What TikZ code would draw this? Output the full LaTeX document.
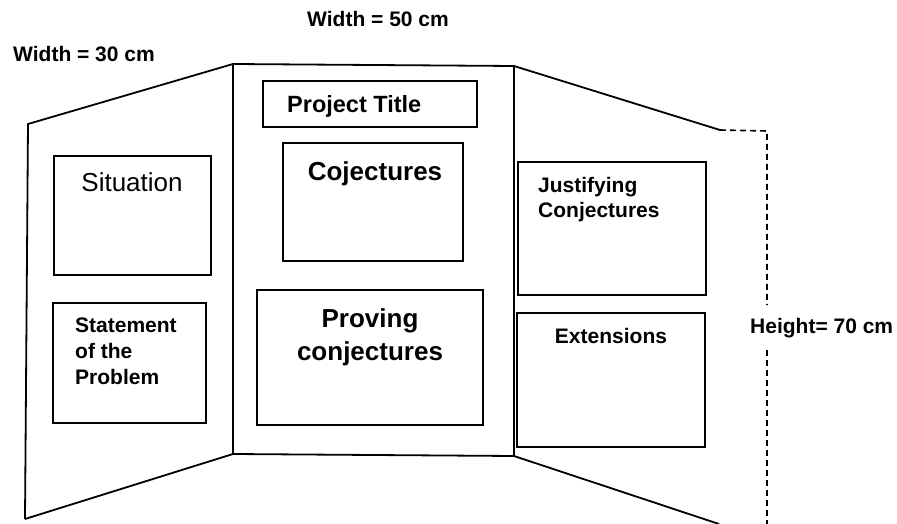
\documentclass[tikz,border=0pt]{standalone}
\usepackage{fontspec}
\setmainfont{Liberation Sans}
\usetikzlibrary{positioning}
\tikzset{
  panel/.style={line width=1.8pt,line join=miter},
  card/.style={draw,line width=1.7pt,inner sep=0pt},
  lbl/.style={inner sep=0pt,font=\fontsize{21}{25}\selectfont\bfseries},
  biglbl/.style={inner sep=0pt,font=\fontsize{26}{33}\selectfont\bfseries},
}
\begin{document}
\begin{tikzpicture}[x=1pt,y=-1pt]
        \useasboundingbox (0,0) rectangle (897,524);

        \coordinate (lt) at (28,124);
        \coordinate (lb) at (25,519);
        \coordinate (ct) at (233,64);
        \coordinate (cb) at (233,454);
        \coordinate (rt) at (514,66);
        \coordinate (rb) at (514,456);
        \coordinate (ft) at (720,130);
        \coordinate (fb) at (719,524);
        \coordinate (d0) at (767,131);
        \coordinate (d1) at (767,305);
        \coordinate (d2) at (767,350);
        \coordinate (d3) at (767,524);

        \draw[panel] (lb) -- (lt) -- (ct) -- (rt) -- (ft);
        \draw[panel] (ct) -- (cb) -- (lb);
        \draw[panel] (rt) -- (rb) -- (fb);
        \draw[panel] (cb) -- (rb);

        \draw[line width=1.6pt,dash pattern=on 6pt off 4pt] (ft) -- (d0) -- (d1);
        \draw[line width=1.6pt,dash pattern=on 6pt off 4pt] (d2) -- (d3);

        \node [card,minimum width=214pt,minimum height=46pt] (title) at (370,104) {};
        \node [card,minimum width=180pt,minimum height=118pt] (conj) at (373,202) {};
        \node [card,minimum width=226pt,minimum height=135pt] (prove) at (370,357.5) {};
        \node [card,minimum width=157pt,minimum height=119pt] (sit) at (132.5,215.5) {};
        \node [card,minimum width=153pt,minimum height=120pt] (stmt) at (129.5,363) {};
        \node [card,minimum width=188pt,minimum height=133pt] (just) at (612,228.5) {};
        \node [card,minimum width=188pt,minimum height=134pt] (ext) at (611,380) {};

        \node [lbl,anchor=base west] (w30) at (13,62) {Width = 30 cm};
        \node [lbl,anchor=base west] (w50) at (307,27) {Width = 50 cm};
        \node [lbl,anchor=base west] (hgt) at (750,333) {Height= 70 cm};

        \node [lbl,anchor=base west,font=\fontsize{23.5}{28}\selectfont\bfseries] (titletxt) at (287,113) {Project Title};
        \node [biglbl,anchor=base] (conjtxt) at (375,181) {Cojectures};
        \node [biglbl,anchor=north,align=center] (provetxt) at (370,308) {Proving\\conjectures};
        \node [inner sep=0pt,font=\fontsize{26}{30}\selectfont,anchor=base] (sittxt) at (132,191) {Situation};
        \node [lbl,anchor=north west,align=left,font=\fontsize{21}{26}\selectfont\bfseries] (stmttxt) at (75,318) {Statement\\of the\\Problem};
        \node [lbl,anchor=north west,align=left] (justtxt) at (538,177) {Justifying\\Conjectures};
        \node [lbl,anchor=base] (exttxt) at (611,343) {Extensions};
\end{tikzpicture}
\end{document}
